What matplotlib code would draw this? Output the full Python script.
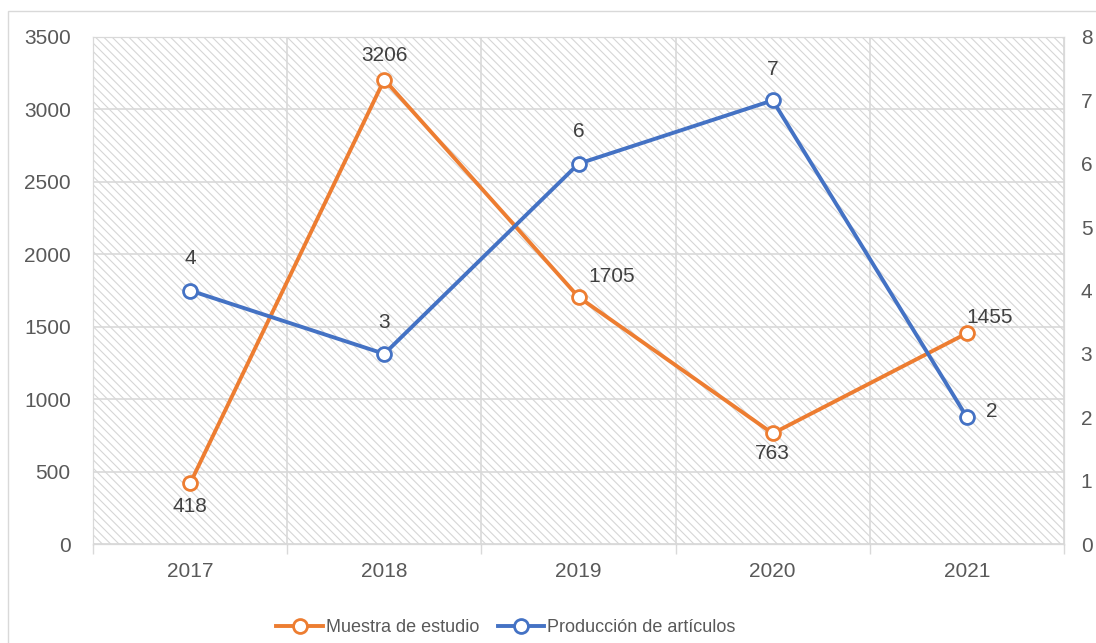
import matplotlib.pyplot as plt
from matplotlib.patches import Rectangle

plt.rcParams['font.family'] = ['Liberation Sans', 'DejaVu Sans']

# Data uit de grafiek
jaren = ['2017', '2018', '2019', '2020', '2021']
muestra = [418, 3206, 1705, 763, 1455]
produccion = [4, 3, 6, 7, 2]

# Positie van de labels (offset in pixels) per punt
muestra_offsets = [(0, -23), (0, 24), (33, 21), (0, -20), (23, 16)]
produccion_offsets = [(0, 32), (0, 31), (0, 32), (0, 31), (25, 6)]

oranje = '#ED7D31'
blauw = '#4472C4'
grijs = '#D9D9D9'
tekst = '#595959'

fig = plt.figure(figsize=(10.96, 6.43), dpi=100)
ax = fig.add_axes([93 / 1096, 99 / 643, 971 / 1096, 507 / 643])
ax2 = ax.twinx()

# Rand om de hele grafiek
fig.patches.append(Rectangle((8 / 1096, -0.05), 1.1, (643 - 11) / 643 + 0.05,
                             transform=fig.transFigure, fill=False,
                             edgecolor=grijs, linewidth=1))

# Gearceerde achtergrond
plt.rcParams['hatch.linewidth'] = 0.8
ax.add_patch(Rectangle((0, 0), 1, 1, transform=ax.transAxes, facecolor='white',
                       edgecolor='#D6D6D6', hatch='\\\\\\\\', linewidth=0, zorder=0))

x = list(range(len(jaren)))
ax.plot(x, muestra, color=oranje, linewidth=2.8, marker='o', markersize=10,
        markerfacecolor='white', markeredgewidth=2, zorder=3,
        label='Muestra de estudio')
ax2.plot(x, produccion, color=blauw, linewidth=2.8, marker='o', markersize=10,
         markerfacecolor='white', markeredgewidth=2, zorder=3,
         label='Producción de artículos')

for xi, v, off in zip(x, muestra, muestra_offsets):
    ax.annotate(str(v), (xi, v), xytext=off, textcoords='offset pixels',
                ha='center', va='center', fontsize=15, color='#404040')
for xi, v, off in zip(x, produccion, produccion_offsets):
    ax2.annotate(str(v), (xi, v), xytext=off, textcoords='offset pixels',
                 ha='center', va='center', fontsize=15, color='#404040')

ax.set_xlim(-0.5, 4.5)
ax.set_ylim(0, 3500)
ax2.set_ylim(0, 8)
ax.set_yticks(range(0, 3501, 500))
ax2.set_yticks(range(0, 9))
ax.set_xticks(x)
ax.set_xticklabels(jaren)
ax.set_xticks([i - 0.5 for i in range(len(jaren) + 1)], minor=True)

ax.tick_params(axis='x', which='major', length=0, pad=13, labelsize=15, labelcolor=tekst)
ax.tick_params(axis='x', which='minor', length=7, color=grijs, width=1)
ax.tick_params(axis='y', length=0, pad=16, labelsize=15, labelcolor=tekst)
ax2.tick_params(axis='y', length=0, pad=12, labelsize=15, labelcolor=tekst)

ax.grid(True, axis='y', color=grijs, linewidth=1.2, zorder=1)
ax.grid(True, axis='x', which='minor', color=grijs, linewidth=1.2, zorder=1)
ax.set_axisbelow(True)

for a in (ax, ax2):
    for s in a.spines.values():
        s.set_color(grijs)
ax.spines['bottom'].set_color('#BFBFBF')

l1, lab1 = ax.get_legend_handles_labels()
l2, lab2 = ax2.get_legend_handles_labels()
fig.legend(l1 + l2, lab1 + lab2, loc='center', bbox_to_anchor=(506 / 1096, 15 / 643),
           ncol=2, frameon=False, fontsize=13, labelcolor=tekst,
           handlelength=2.6, handletextpad=0.15, columnspacing=1.0)

fig.savefig('out.png', dpi=100)
